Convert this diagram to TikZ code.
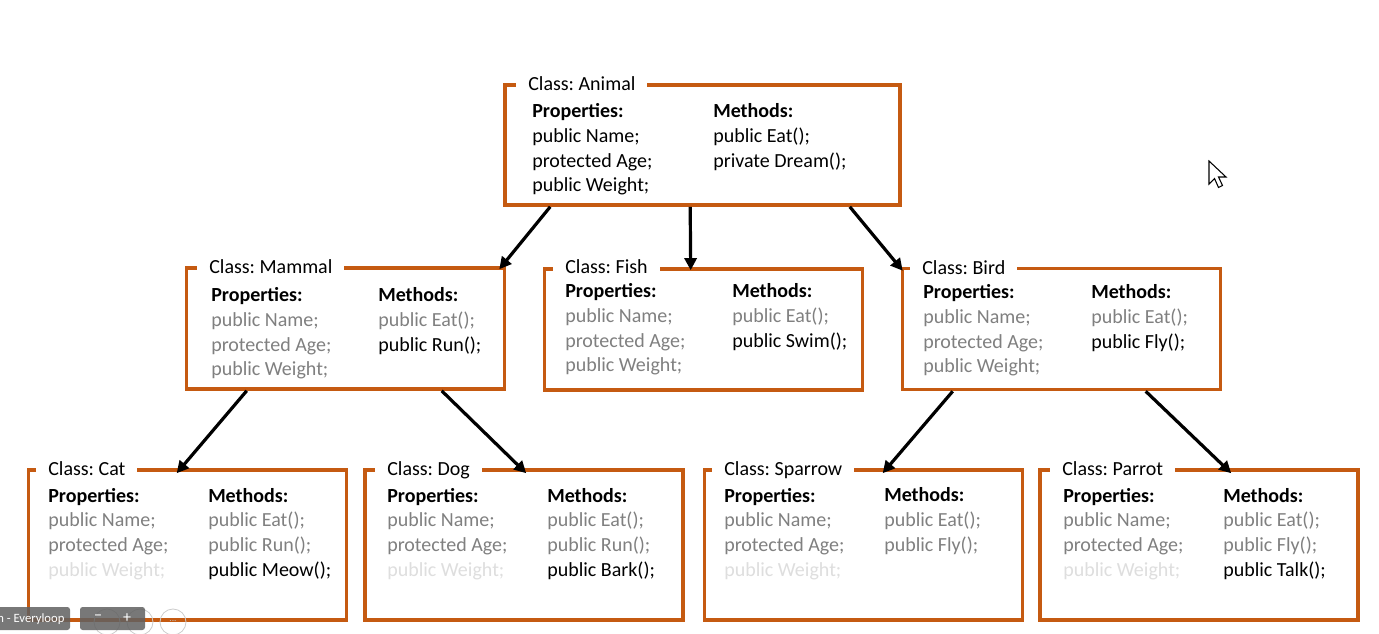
\documentclass[tikz,border=0pt]{standalone}
\usepackage{fontspec}
\setmainfont{Carlito}
\usetikzlibrary{arrows.meta}
\definecolor{boxc}{RGB}{197,90,17}
\definecolor{inh}{RGB}{128,128,128}
\definecolor{faint}{RGB}{222,222,222}
\tikzset{
  cbox/.style={draw=boxc, line width=2.7pt, rectangle, inner sep=0pt},
  topbox/.style={cbox, minimum width=296.25pt, minimum height=90pt},
  midbox/.style={cbox, minimum width=238.5pt, minimum height=90.75pt},
  lowbox/.style={cbox, minimum width=238.5pt, minimum height=112.5pt},
  ctitle/.style={fill=white, inner xsep=9pt, inner ysep=3pt, anchor=base west,
    font=\fontsize{15pt}{18.5pt}\selectfont\frenchspacing},
  body/.style={inner sep=0pt, anchor=base west, align=left,
    font=\fontsize{15pt}{18.5pt}\selectfont\frenchspacing},
  inharrow/.style={draw=black, line width=2.4pt, -{Triangle[length=9pt,width=9pt]}},
  uibar/.style={fill=black!62, fill opacity=0.85, rounded corners=2pt, draw=none},
  uiring/.style={draw=black!20, line width=0.6pt},
}
\newcommand{\hd}[1]{\textbf{#1}}
\newcommand{\ih}[1]{\textcolor{inh}{#1}}
\newcommand{\fa}[1]{\textcolor{faint}{#1}}
\begin{document}
\begin{tikzpicture}[x=0.75pt,y=-0.75pt]
\useasboundingbox[fill=white] (0,0) rectangle (1379,634);

% ---------- boxes ----------
\node[topbox] (animal)  at (702.5,145) {};
\node[midbox] (mammal)  at (345.5,328.5) {};
\node[midbox] (fish)    at (703.5,329.5) {};
\node[midbox] (bird)    at (1061.5,329) {};
\node[lowbox] (cat)     at (187.5,545) {};
\node[lowbox] (dog)     at (524,545) {};
\node[lowbox] (sparrow) at (863.5,545) {};
\node[lowbox] (parrot)  at (1199,545) {};

% ---------- titles ----------
\node[ctitle] (animalT)  at (516,91)  {Class: Animal};
\node[ctitle] (mammalT)  at (197,274) {Class: Mammal};
\node[ctitle] (fishT)    at (553,274) {Class: Fish};
\node[ctitle] (birdT)    at (910,275) {Class: Bird};
\node[ctitle] (catT)     at (36,476)  {Class: Cat};
\node[ctitle] (dogT)     at (375,476) {Class: Dog};
\node[ctitle] (sparrowT) at (712,476) {Class: Sparrow};
\node[ctitle] (parrotT)  at (1050,476) {Class: Parrot};

% ---------- contents (anchored at the baseline of the last line) ----------
\node[body] (animalP) at (532,192) {\hd{Properties:}\\public Name;\\protected Age;\\public Weight;};
\node[body] (animalM) at (713,167.3) {\hd{Methods:}\\public Eat();\\private Dream();};

\node[body] (mammalP) at (211,376) {\hd{Properties:}\\\ih{public Name;}\\\ih{protected Age;}\\\ih{public Weight;}};
\node[body] (mammalM) at (378,351.3) {\hd{Methods:}\\\ih{public Eat();}\\public Run();};

\node[body] (fishP) at (565,372) {\hd{Properties:}\\\ih{public Name;}\\\ih{protected Age;}\\\ih{public Weight;}};
\node[body] (fishM) at (732,347.3) {\hd{Methods:}\\\ih{public Eat();}\\public Swim();};

\node[body] (birdP) at (923,373) {\hd{Properties:}\\\ih{public Name;}\\\ih{protected Age;}\\\ih{public Weight;}};
\node[body] (birdM) at (1091,348.3) {\hd{Methods:}\\\ih{public Eat();}\\public Fly();};

\node[body] (catP) at (48,576) {\hd{Properties:}\\\ih{public Name;}\\\ih{protected Age;}\\\fa{public Weight;}};
\node[body] (catM) at (208,576) {\hd{Methods:}\\\ih{public Eat();}\\\ih{public Run();}\\public Meow();};

\node[body] (dogP) at (387,576) {\hd{Properties:}\\\ih{public Name;}\\\ih{protected Age;}\\\fa{public Weight;}};
\node[body] (dogM) at (547,576) {\hd{Methods:}\\\ih{public Eat();}\\\ih{public Run();}\\public Bark();};

\node[body] (sparrowP) at (724,576) {\hd{Properties:}\\\ih{public Name;}\\\ih{protected Age;}\\\fa{public Weight;}};
\node[body] (sparrowM) at (884,551.3) {\hd{Methods:}\\\ih{public Eat();}\\\ih{public Fly();}};

\node[body] (parrotP) at (1063,576) {\hd{Properties:}\\\ih{public Name;}\\\ih{protected Age;}\\\fa{public Weight;}};
\node[body] (parrotM) at (1223,576) {\hd{Methods:}\\\ih{public Eat();}\\\ih{public Fly();}\\public Talk();};

% ---------- connectors ----------
\draw[inharrow] ([xshift=35.25pt]animal.south west) -- ([xshift=-5.25pt,yshift=-2.25pt]mammal.north east);
\draw[inharrow] ([xshift=140.25pt]animal.south west) -- ([xshift=111pt,yshift=-2.25pt]fish.north west);
\draw[inharrow] ([xshift=-39pt]animal.south east) -- ([xshift=1.5pt,yshift=-3pt]bird.north west);
\draw[inharrow] ([xshift=46.5pt]mammal.south west) -- ([xshift=112.5pt,yshift=-3.75pt]cat.north west);
\draw[inharrow] ([xshift=192.75pt]mammal.south west) -- ([xshift=122.25pt,yshift=-3.75pt]dog.north west);
\draw[inharrow] ([xshift=39pt]bird.south west) -- ([xshift=135pt,yshift=-3.75pt]sparrow.north west);
\draw[inharrow] ([xshift=183.75pt]bird.south west) -- ([xshift=144.75pt,yshift=-3.75pt]parrot.north west);

% ---------- screen overlay (cursor, toolbar) ----------
\draw[fill=white, line width=0.8pt, line join=miter]
  (1209,161) -- (1209,184) -- (1214.5,178.5) -- (1218.5,187.5) -- (1222.5,185.5)
  -- (1218.5,177) -- (1226,177) -- cycle;
\draw[uiring] (107,622) circle (13);
\draw[uiring] (140,622) circle (13);
\draw[uiring] (173,622) circle (13);
\node[font=\fontsize{7pt}{8pt}\selectfont, text=black!25] (dots) at (173,621) {...};
\path[uibar] (-5,607) rectangle (70,630);
\path[uibar] (80,607) rectangle (145,630);
\node[anchor=base west, inner sep=0pt, text=white, font=\fontsize{9.5pt}{11pt}\selectfont] (uitext) at (-3,623) {n - Everyloop};
\node[text=white, inner sep=0pt, font=\fontsize{12pt}{12pt}\selectfont] (uiminus) at (98,618) {−};
\node[text=white, inner sep=0pt, font=\fontsize{12pt}{12pt}\selectfont] (uiplus) at (127,618) {+};
\end{tikzpicture}
\end{document}
